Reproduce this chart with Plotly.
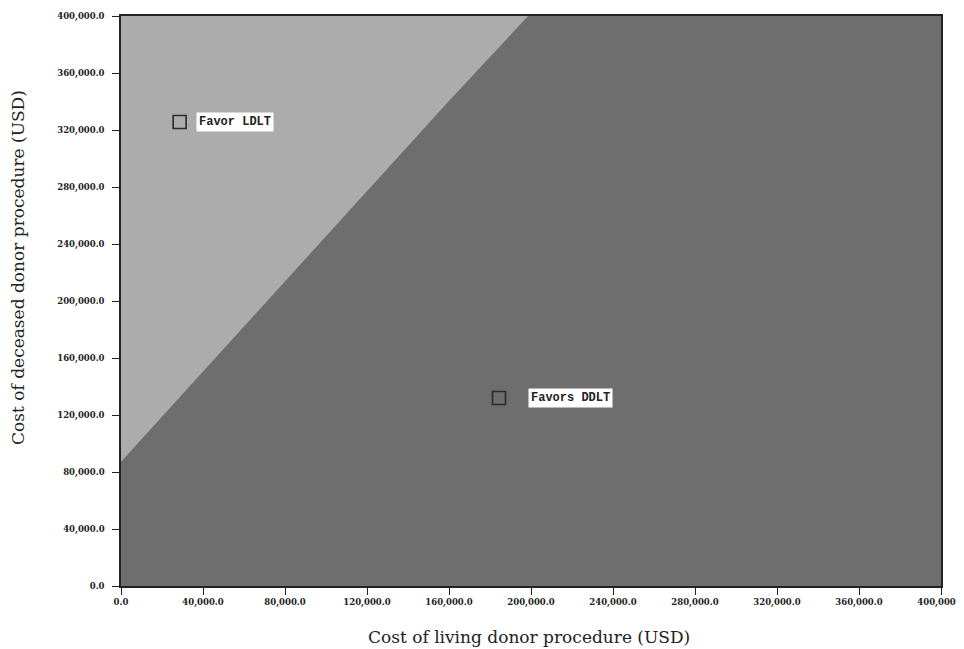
import plotly.graph_objects as go

# Threshold boundary
boundary_living = [0, 80700, 160400, 198600]        # Cost of living donor procedure (USD)
boundary_deceased = [87200, 214700, 341000, 400000]  # Cost of deceased donor procedure (USD)

axis_max = 400000
tick_values = [0, 40000, 80000, 120000, 160000, 200000, 240000, 280000, 320000, 360000, 400000]

region_labels = ["Favor LDLT", "Favors DDLT"]
label_marker_x = [28600, 184400]
label_marker_y = [325600, 131900]
label_text_x = [36400, 198500]

light = "#ACACAC"
dark = "#6E6E6E"

fig = go.Figure()

# Light (favor LDLT) region: above the boundary
poly_x = boundary_living + [0]
poly_y = boundary_deceased + [axis_max]
fig.add_trace(go.Scatter(x=poly_x, y=poly_y, fill="toself", fillcolor=light,
                         mode="lines", line=dict(width=0, color=light),
                         hoverinfo="skip", showlegend=False))

# Label markers
fig.add_trace(go.Scatter(x=label_marker_x, y=label_marker_y, mode="markers",
                         marker=dict(symbol="square-open", size=13,
                                     line=dict(color="#2a2a2a", width=1.6),
                                     color="#2a2a2a"),
                         hoverinfo="skip", showlegend=False))

for txt, tx, ty in zip(region_labels, label_text_x, label_marker_y):
    fig.add_annotation(x=tx, y=ty, text=txt, showarrow=False, xanchor="left",
                       yanchor="middle", bgcolor="white", borderpad=2,
                       font=dict(family="Liberation Mono", size=12, color="#222", weight="bold"))

tickfont = dict(family="DejaVu Serif", size=8.5, color="#222", weight="bold")

fig.update_xaxes(range=[0, axis_max], tickvals=tick_values, tickformat=",.1f",
                 showgrid=False, zeroline=False, showline=True, linecolor="#222",
                 linewidth=1.5, mirror=True, ticks="outside", ticklen=7,
                 tickcolor="#222", tickfont=tickfont, automargin=False,
                 ticklabeloverflow="allow")
fig.update_yaxes(range=[0, axis_max], tickvals=tick_values, tickformat=",.1f",
                 showgrid=False, zeroline=False, showline=True, linecolor="#222",
                 linewidth=1.5, mirror=True, ticks="outside", ticklen=7,
                 tickcolor="#222", tickfont=tickfont, ticklabelstandoff=6,
                 automargin=False)

fig.add_annotation(text="Cost of living donor procedure (USD)", xref="paper", yref="paper",
                   x=0.497, y=-0.089, xanchor="center", yanchor="middle", showarrow=False,
                   font=dict(family="DejaVu Serif", size=17, color="#222"))
fig.add_annotation(text="Cost of deceased donor procedure (USD)", xref="paper", yref="paper",
                   x=-0.1256, y=0.558, xanchor="center", yanchor="middle", showarrow=False,
                   textangle=-90,
                   font=dict(family="DejaVu Serif", size=17, color="#222"))

fig.update_layout(width=964, height=641, plot_bgcolor=dark, paper_bgcolor="white",
                  margin=dict(l=113, r=31, t=8, b=63, autoexpand=False))

fig.write_html("out.html")
